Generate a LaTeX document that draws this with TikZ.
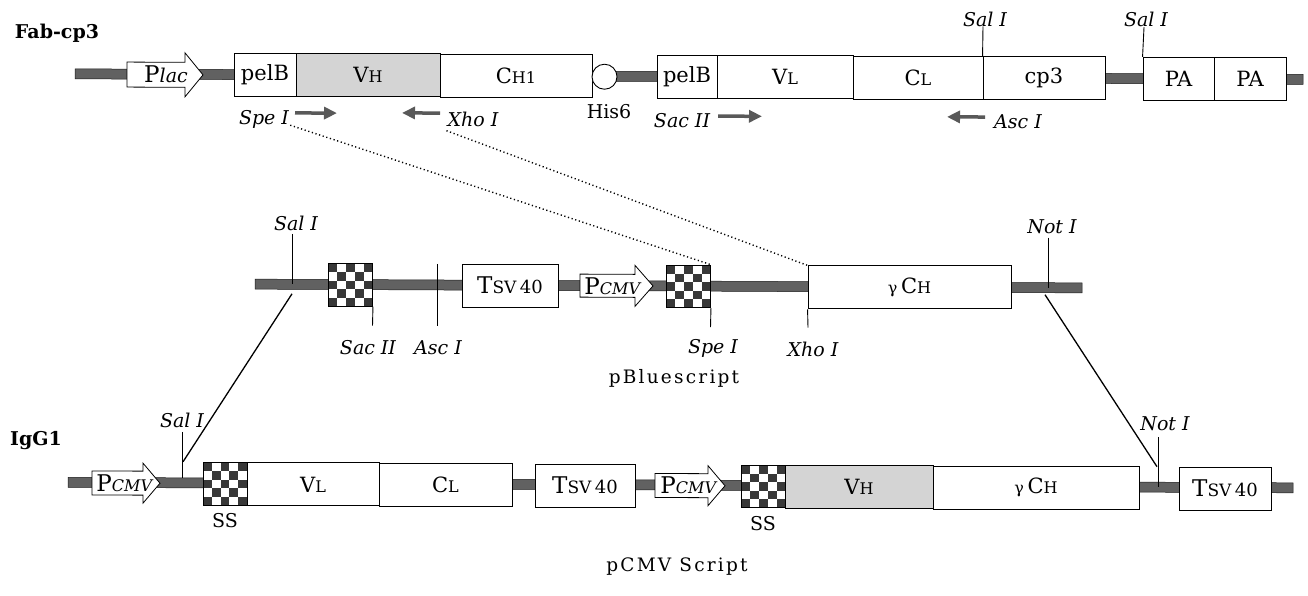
\documentclass[tikz,border=0pt]{standalone}
\usepackage{fontspec}
\setmainfont{DejaVu Serif}
\usetikzlibrary{arrows.meta,calc}
\newcommand\lbl{\fontsize{19}{23}\selectfont}
\newcommand\blbl{\fontsize{21}{25}\selectfont}
\newcommand\sm[1]{{\fontsize{16}{18}\selectfont #1}}
\newcommand\bigP{{\fontsize{23}{25}\selectfont P}}
\newcommand\gam{{\fontsize{16}{18}\selectfont γ}\,}
\newcommand\tsv{{\fontsize{23}{25}\selectfont T}{\fontsize{17}{19}\selectfont SV}\,{\fontsize{18}{20}\selectfont 40}}
\newcommand\bx[6][box]{\node[#1, minimum width={(#4)-(#3)}, minimum height=43pt] (#2) at ({((#3)+(#4))/2},#5) {#6};}
\newcommand\prom[7]{\draw[prom] (#2,#5-#6) -- (#3,#5-#6) -- (#3,#5-#7) -- (#4,#5) -- (#3,#5+#7) -- (#3,#5+#6) -- (#2,#5+#6) -- cycle; \coordinate (#1) at (#2,#5);}
\begin{document}
\begin{tikzpicture}[x={(1pt,-0.0045pt)}, y={(0pt,-1pt)},
  box/.style={draw, line width=0.9pt, fill=white, inner sep=0pt, font=\blbl},
  gbox/.style={box, fill=black!17},
  chk/.style={draw, line width=0.9pt, fill=white, inner sep=0pt, minimum width=44pt, minimum height=42.5pt,
    path picture={\foreach \i in {0,...,4}{\foreach \j in {0,...,4}{\pgfmathtruncatemacro\k{mod(\i+\j,2)}\ifnum\k=0 \fill[black!78] ($(path picture bounding box.north west)+(\i*8.8pt,-\j*8.5pt)$) rectangle ++(8.8pt,-8.5pt);\fi}}}},
  bb/.style={fill=black!62, draw=black!90, line width=0.5pt},
  tick/.style={line width=0.9pt},
  primer/.style={line width=3.5pt, black!65, -{Triangle[length=13pt,width=12pt]}},
  prom/.style={draw, line width=0.8pt, fill=white},
  itl/.style={font=\lbl\itshape, inner sep=1pt},
  rml/.style={font=\lbl, inner sep=1pt},
  ptxt/.style={font=\lbl, inner sep=0pt},
  ttl/.style={font=\fontsize{19}{23}\selectfont\bfseries, inner sep=0pt},
  captxt/.style={font=\fontsize{18.5}{22}\selectfont\addfontfeature{LetterSpace=12}, inner sep=1pt},
  dots/.style={line width=1.4pt, dash pattern=on 1.2pt off 2.6pt},
  diag/.style={line width=1.3pt}]
\useasboundingbox (0pt,0pt) rectangle (1308pt,-596pt);

% ================= top row: Fab-cp3 =================
\node[ttl] (fab) at (57,32.7) {Fab-cp3};
\draw[bb] (75,68.5) -- (1303,68.5) -- (1303,78.5) -- (75,78.5) -- cycle;
\prom{plac}{127}{185}{203}{74}{12.5}{22}
\node[ptxt] (plact) at (166,74) {\bigP\textit{lac}};
\bx{pelBa}{234}{296}{73.5}{pelB}
\bx[gbox]{vha}{296}{440}{73.5}{V\sm{H}}
\bx{cha}{440}{592}{73.5}{C\sm{H1}}
\node[draw, circle, line width=0.9pt, fill=white, minimum size=25pt, inner sep=0pt] (hisc) at (604.5,74) {};
\bx{pelBb}{657}{717}{73.5}{pelB}
\bx{vla}{717}{853}{73.5}{V\sm{L}}
\bx{cla}{853}{983}{73.5}{C\sm{L}}
\bx{cp3}{983}{1105}{73.5}{cp3}
\bx{paa}{1143}{1214}{73.5}{PA}
\bx{pab}{1214}{1286}{73.5}{PA}
\node[itl] (sala) at (985,14.6) {Sal I};
\node[itl] (salb) at (1146,13.8) {Sal I};
\coordinate (ta) at (983,22);
\coordinate (tb) at (1144,22);
\draw[tick] (ta) -- (cp3.north west);
\draw[tick] (tb) -- (paa.north west);
\node[rml] (his) at (609,108.5) {His6};
\node[itl] (spea) at (264,117.8) {Spe I};
\node[itl] (xhoa) at (473,117) {Xho I};
\node[itl] (saca) at (682,117.9) {Sac II};
\node[itl] (asca) at (1018,117.4) {Asc I};
\coordinate (r1a) at (295,111.6); \coordinate (r1b) at (337,111.6);
\coordinate (l1a) at (440,111.1); \coordinate (l1b) at (402,111.1);
\coordinate (r2a) at (718,112.9); \coordinate (r2b) at (762,112.9);
\coordinate (l2a) at (985,112.6); \coordinate (l2b) at (947,112.6);
\draw[primer] (r1a) -- (r1b);
\draw[primer] (l1a) -- (l1b);
\draw[primer] (r2a) -- (r2b);
\draw[primer] (l2a) -- (l2b);

% ================= middle row: pBluescript =================
\draw[bb] (255,278) -- (1082,278) -- (1082,288) -- (255,288) -- cycle;
\node[chk] (chk1) at (350.5,283.3) {};
\bx{tsvm}{462}{558}{283.3}{\tsv}
\prom{pcm}{580}{635}{653}{283}{11.5}{20.5}
\node[ptxt] (pcmt) at (613,283) {\bigP\textit{\sm{CMV}}};
\node[chk] (chk2) at (688.5,283.3) {};
\bx{gchm}{808}{1011}{283.3}{\gam C\sm{H}}
\node[itl] (salm) at (296,221.7) {Sal I};
\node[itl] (notm) at (1052,222.3) {Not I};
\coordinate (tsal) at (292,232.5); \coordinate (bsal) at (292,283);
\coordinate (tnot) at (1048,233); \coordinate (bnot) at (1048,283);
\coordinate (tasc) at (437,262); \coordinate (basc) at (437,324);
\coordinate (bsac) at (372.5,324);
\coordinate (bspe) at (710.5,324);
\coordinate (bxho) at (808,324);
\draw[tick] (tsal) -- (bsal);
\draw[tick] (tnot) -- (bnot);
\draw[tick] (tasc) -- (basc);
\draw[tick] (chk1.south east) -- (bsac);
\draw[tick] (chk2.south east) -- (bspe);
\draw[tick] (gchm.south west) -- (bxho);
\node[itl] (sacm) at (368,345.5) {Sac II};
\node[itl] (ascm) at (438,345.5) {Asc I};
\node[itl] (spem) at (713,345.5) {Spe I};
\node[itl] (xhom) at (813,345.5) {Xho I};
\node[captxt] (pbs) at (674,375) {pBluescript};

% dotted correspondences
\draw[dots] ([yshift=4pt]spea.south east) -- (chk2.north east);
\draw[dots] ([yshift=-3pt]xhoa.south west) -- (gchm.north west);

% ================= bottom row: IgG1 =================
\node[ttl] (igg) at (36,440.8) {IgG1};
\draw[bb] (68,477) -- (1293,477) -- (1293,487) -- (68,487) -- cycle;
\prom{pcb1}{92}{143}{160}{482.5}{12}{20}
\node[ptxt] (pcb1t) at (125,482.5) {\bigP\textit{\sm{CMV}}};
\node[chk] (ss1) at (225,483) {};
\bx{vlb}{247}{379}{483}{V\sm{L}}
\bx{clb}{379}{512}{483}{C\sm{L}}
\bx{tsvb}{535}{635}{483}{\tsv}
\prom{pcb2}{655}{708}{725}{482.5}{12}{20}
\node[ptxt] (pcb2t) at (689,482.5) {\bigP\textit{\sm{CMV}}};
\node[chk] (ss2) at (763.5,483) {};
\bx[gbox]{vhb}{785}{933}{483}{V\sm{H}}
\bx{gchb}{933}{1139}{483}{\gam C\sm{H}}
\bx{tsvc}{1179}{1271}{483}{\tsv}
\node[rml] (ssa) at (225,520) {SS};
\node[rml] (ssb) at (763,520) {SS};
\node[itl] (salc) at (182,419.2) {Sal I};
\node[itl] (notc) at (1165,418.8) {Not I};
\coordinate (tsalc) at (182,431); \coordinate (bsalc) at (182,477);
\coordinate (tnotc) at (1158,432); \coordinate (bnotc) at (1158,482);
\draw[tick] (tsalc) -- (bsalc);
\draw[tick] (tnotc) -- (bnotc);
\node[captxt] (pcs) at (677,564) {pCMV Script};

% transfer lines
\coordinate (dla) at (292,292.5); \coordinate (dlb) at (183,461);
\coordinate (dra) at (1045,290); \coordinate (drb) at (1157,461.5);
\draw[diag] (dla) -- (dlb);
\draw[diag] (dra) -- (drb);
\end{tikzpicture}
\end{document}
